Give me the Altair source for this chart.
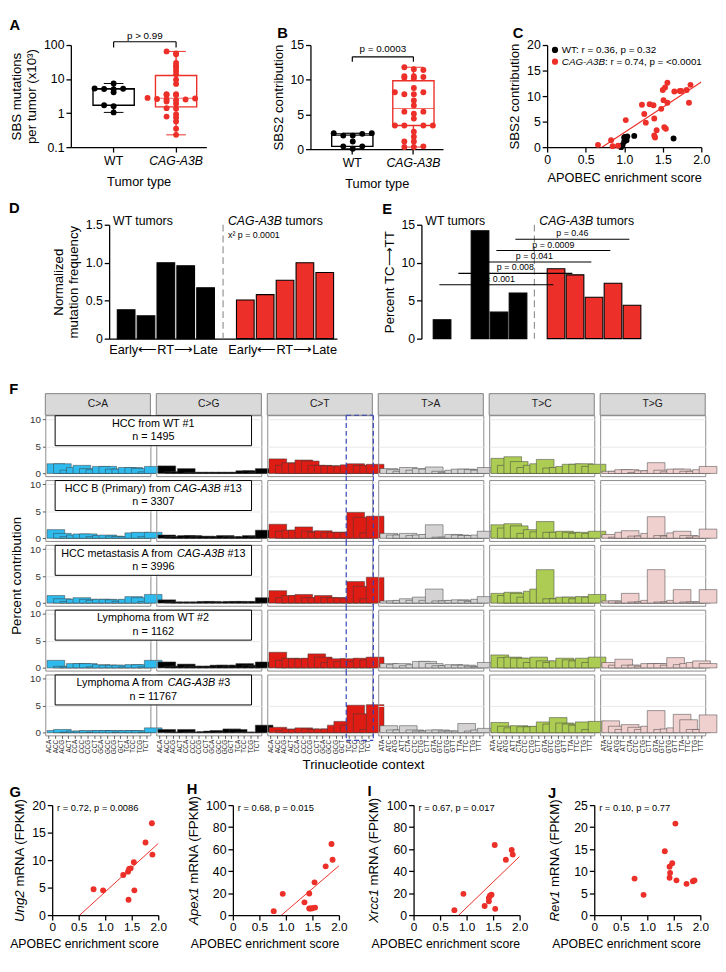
import altair as alt
import pandas as pd

FONT = "Liberation Sans"
RED = "#ec2f28"
BLACK = "#000000"
BLUE = "#3442b8"
DASH_GRAY = "#8a8a8a"

# ---------------- data ----------------
groups = ["WT", "CAG-A3B"]

# A: SBS mutations per tumor (x10^3)
a_wt = [1.05, 1.6, 1.7, 4.1, 5.0, 5.1, 5.2, 5.3, 7.4]
a_cag = [0.23, 0.35, 0.57, 0.74, 0.79, 0.92, 1.35, 1.4, 1.9, 2.2, 2.4, 2.5, 2.5, 2.6, 2.7,
         2.8, 3.4, 3.4, 3.6, 3.6, 7.2, 9.6, 13.8, 17.5, 22, 25, 30, 54, 57, 65]
a_bracket = [85, 125]
a_p = "p > 0.99"

# B: SBS2 contribution
b_wt = [0.05, 0.4, 0.4, 1.1, 1.95, 1.95, 2.2, 2.3, 2.3]
b_cag = [0.3, 0.3, 0.4, 1.1, 1.1, 1.8, 2.5, 3.4, 3.4, 3.4, 3.4, 4.4, 5.1, 5.4, 5.4,
         6.3, 7.0, 7.9, 7.9, 8.2, 8.2, 8.8, 10.2, 10.3, 10.4, 10.5, 10.5, 11.4, 11.5, 11.8]
b_bracket = [12.6, 13.3]
b_p = "p = 0.0003"

# C: APOBEC enrichment vs SBS2
c_wt_x = [0.96, 0.98, 1.0, 1.0, 1.01, 1.03, 1.04, 1.13, 1.64]
c_wt_y = [0.0, 0.45, 1.1, 1.9, 2.0, 1.35, 2.1, 2.2, 1.7]
c_cag_x = [0.66, 0.83, 0.85, 0.92, 1.02, 1.23, 1.26, 1.28, 1.33, 1.38, 1.39, 1.39, 1.40, 1.42,
           1.48, 1.51, 1.52, 1.54, 1.50, 1.53, 1.56, 1.56, 1.65, 1.72, 1.74, 1.81, 1.86, 1.84]
c_cag_y = [0.45, 1.35, 0.2, 0.3, 5.3, 8.3, 6.5, 4.8, 8.4, 8.2, 5.6, 2.3, 1.9, 3.3,
           7.5, 9.2, 3.9, 3.6, 11.2, 11.7, 12.6, 8.7, 10.9, 11.0, 11.0, 11.2, 12.2, 8.7]
c_stat_wt = "WT: r = 0.36, p = 0.32"
c_stat_cag = ": r = 0.74, p = <0.0001"

# D / E: replication timing
rt_slots = ["W1", "W2", "W3", "W4", "W5", "gap", "C1", "C2", "C3", "C4", "C5"]
rt_label = "Early⟵RT⟶Late"
d_wt = [0.38, 0.30, 1.00, 0.96, 0.67]
d_cag = [0.51, 0.58, 0.77, 1.00, 0.87]
d_chi = "x² p = 0.0001"
e_wt = [2.5, None, 14.2, 3.5, 6.0]
e_cag = [9.2, 8.4, 5.45, 7.3, 4.4]
e_from = ["W1", "W2", "W3", "W4", "W5"]
e_to = ["C1", "C2", "C3", "C4", "C5"]
e_mid = ["W4", "W5", "gap", "C1", "C2"]
e_level = [7.1, 8.6, 10.1, 11.6, 13.1]
e_ptext = ["p = 0.001", "p = 0.008", "p = 0.041", "p = 0.0009", "p = 0.46"]

# F: 96-channel profiles (percent contribution)
f_types = ["C>A", "C>G", "C>T", "T>A", "T>C", "T>G"]
f_colors = ["#2EBAED", "#000000", "#DE1C14", "#D4D2D2", "#ADCC54", "#F0D0CE"]
bases = ["A", "C", "G", "T"]
f_hcc_wt1 = [
    1.8, 1.8, 0.6, 1.1, 1.5, 0.9, 0.7, 1.3, 1.3, 0.8, 0.8, 1.1, 1.1, 0.9, 0.3, 1.3,
    1.4, 0.3, 0.3, 0.9, 0.2, 0.2, 0.2, 0.2, 0.2, 0.2, 0.2, 0.2, 0.5, 0.5, 0.2, 0.9,
    2.7, 1.5, 2.0, 1.9, 2.5, 2.3, 1.5, 1.5, 1.4, 1.4, 1.4, 1.6, 1.8, 1.5, 1.5, 1.7,
    0.9, 0.7, 0.4, 1.1, 0.6, 0.9, 0.8, 1.2, 0.4, 0.2, 0.6, 0.8, 0.8, 0.7, 0.6, 1.1,
    2.8, 1.5, 3.1, 2.2, 1.1, 1.5, 1.8, 2.6, 1.0, 1.1, 1.3, 1.7, 1.7, 1.8, 1.3, 1.7,
    0.4, 0.4, 0.7, 0.7, 0.2, 0.5, 0.5, 2.0, 0.6, 0.3, 0.8, 0.8, 0.4, 0.4, 0.7, 1.3]
f_hcc_b = [
    1.6, 0.9, 0.3, 0.6, 0.8, 0.8, 0.3, 0.5, 0.6, 0.4, 0.3, 0.3, 1.0, 1.1, 0.3, 1.1,
    0.6, 0.3, 0.3, 0.5, 0.5, 0.3, 0.4, 0.3, 0.3, 0.5, 0.3, 0.2, 0.3, 0.5, 0.3, 1.5,
    2.6, 1.3, 1.5, 1.5, 2.1, 1.3, 1.1, 1.4, 1.1, 1.1, 1.1, 1.1, 4.8, 3.9, 1.0, 4.1,
    0.9, 0.6, 0.6, 0.9, 0.5, 0.6, 0.7, 2.5, 0.2, 0.2, 0.7, 0.6, 0.5, 0.5, 0.6, 1.3,
    2.5, 1.9, 2.7, 2.3, 0.9, 1.6, 1.2, 3.1, 1.1, 1.1, 1.3, 1.1, 0.9, 1.1, 0.9, 1.3,
    0.7, 0.2, 1.1, 1.4, 0.4, 0.4, 0.9, 4.0, 0.5, 0.4, 1.0, 1.3, 0.5, 0.2, 0.4, 1.7]
f_hcc_met = [
    1.4, 0.8, 0.3, 0.7, 1.0, 0.7, 0.5, 0.7, 0.7, 0.6, 0.3, 0.7, 1.2, 1.0, 0.3, 1.6,
    0.6, 0.2, 0.2, 0.2, 0.2, 0.2, 0.3, 0.3, 0.2, 0.2, 0.3, 0.3, 0.3, 0.2, 0.3, 1.0,
    2.3, 1.0, 1.4, 1.4, 1.6, 1.0, 1.0, 1.4, 1.0, 1.0, 1.0, 0.9, 4.0, 3.1, 0.8, 4.8,
    0.4, 0.4, 0.5, 0.8, 0.5, 1.1, 0.5, 2.6, 0.4, 0.4, 0.5, 0.6, 0.5, 0.3, 0.7, 1.2,
    1.8, 1.4, 2.0, 1.8, 1.1, 2.2, 2.6, 6.2, 0.8, 0.8, 1.1, 1.1, 0.8, 1.2, 1.1, 1.6,
    0.4, 0.4, 0.2, 1.8, 0.2, 0.2, 0.5, 6.2, 0.2, 0.2, 0.5, 2.5, 0.2, 0.2, 0.2, 2.5]
f_lym_wt2 = [
    1.4, 0.3, 0.2, 0.8, 0.8, 0.8, 0.2, 0.6, 0.5, 0.5, 0.5, 0.2, 0.6, 0.6, 0.2, 1.4,
    1.1, 0.3, 0.3, 0.7, 0.3, 0.3, 0.3, 0.3, 0.5, 0.5, 0.3, 0.5, 0.8, 0.5, 0.3, 1.1,
    2.9, 1.4, 1.8, 1.7, 1.7, 1.8, 2.6, 2.0, 1.0, 1.7, 1.2, 1.7, 1.2, 1.8, 1.5, 2.0,
    0.8, 0.6, 0.8, 0.4, 0.6, 1.2, 1.2, 0.8, 0.4, 0.4, 0.6, 0.5, 0.5, 0.3, 0.2, 1.0,
    2.4, 1.9, 2.0, 1.8, 1.8, 1.0, 2.0, 1.3, 1.0, 1.3, 1.8, 1.5, 1.3, 1.8, 1.0, 2.0,
    1.0, 0.5, 1.6, 0.5, 0.5, 0.3, 0.8, 0.8, 0.8, 0.5, 1.9, 0.6, 0.8, 1.0, 1.3, 0.8]
f_lym_a = [
    0.4, 0.6, 0.1, 0.3, 0.3, 0.4, 0.1, 0.4, 0.4, 0.4, 0.1, 0.4, 0.4, 0.4, 0.1, 0.9,
    0.6, 0.1, 0.1, 0.6, 0.1, 0.1, 0.2, 0.3, 0.4, 0.1, 0.7, 0.6, 0.1, 0.1, 0.1, 1.4,
    1.0, 0.4, 0.7, 0.6, 0.9, 0.7, 0.6, 0.7, 0.7, 1.4, 2.1, 1.4, 5.1, 3.5, 0.6, 5.2,
    1.3, 0.5, 0.5, 1.3, 0.5, 0.3, 0.3, 0.5, 0.5, 0.3, 0.3, 0.3, 1.7, 0.3, 0.5, 0.8,
    1.9, 1.2, 0.9, 1.3, 1.1, 1.1, 1.2, 2.0, 1.6, 2.8, 1.8, 1.6, 1.4, 2.0, 0.6, 2.1,
    2.2, 1.2, 0.6, 1.5, 1.0, 0.6, 1.2, 4.1, 0.6, 0.7, 0.9, 3.4, 2.4, 0.6, 0.6, 3.3]
f_rows_vals = [f_hcc_wt1, f_hcc_b, f_hcc_met, f_lym_wt2, f_lym_a]
f_titles = [
    [("HCC from WT #1", False)],
    [("HCC B (Primary) from ", False), ("CAG-A3B", True), (" #13", False)],
    [("HCC metastasis A from ", False), ("CAG-A3B", True), (" #13", False)],
    [("Lymphoma from WT #2", False)],
    [("Lymphoma A from ", False), ("CAG-A3B", True), (" #3", False)],
]
f_counts = [1495, 3307, 3996, 1162, 11767]

# G-J: APOBEC enrichment vs mRNA
g_x = [0.78, 0.96, 1.34, 1.43, 1.45, 1.48, 1.54, 1.55, 1.44, 1.76, 1.88, 1.89]
g_y = [4.7, 4.5, 7.3, 7.9, 8.4, 8.5, 9.6, 4.5, 2.8, 13.2, 16.7, 11.0]
h_x = [0.77, 0.94, 1.35, 1.44, 1.44, 1.47, 1.50, 1.54, 1.55, 1.75, 1.86, 1.88]
h_y = [3.6, 19.3, 11.6, 19.6, 6.0, 6.0, 6.2, 29.8, 6.8, 44.3, 64.6, 50.3]
i_x = [0.77, 0.94, 1.34, 1.42, 1.44, 1.47, 1.42, 1.53, 1.54, 1.74, 1.85, 1.87]
i_y = [4.5, 19.3, 8.3, 12.5, 17.6, 18.5, 15.5, 63.7, 5.7, 50.3, 59.2, 55.0]
j_x = [0.76, 0.93, 1.33, 1.42, 1.47, 1.43, 1.42, 1.53, 1.55, 1.74, 1.86, 1.89]
j_y = [8.3, 4.6, 14.5, 11.0, 11.8, 9.6, 8.5, 20.8, 7.9, 7.1, 7.7, 7.9]
gene_names = ["Ung2", "Apex1", "Xrcc1", "Rev1"]
gene_stats = ["r = 0.72, p = 0.0086", "r = 0.68, p = 0.015", "r = 0.67, p = 0.017", "r = 0.10, p = 0.77"]
gene_ymax = [20, 100, 100, 25]
gene_ystep = [5, 20, 20, 5]
gene_fit = [True, True, True, False]
gene_title_x = [-33, -40, -40, -40]

# ---------------- helpers ----------------
AW = {" ": 278, "#": 556, "(": 333, ")": 333, ",": 278, "-": 333, ".": 278, ":": 278,
      "=": 584, "<": 584, ">": 584,
      "A": 667, "B": 667, "C": 722, "D": 722, "E": 667, "F": 611, "G": 778, "H": 722, "I": 278,
      "J": 500, "K": 667, "L": 556, "M": 833, "N": 722, "O": 778, "P": 667, "Q": 778, "R": 722,
      "S": 667, "T": 611, "U": 722, "V": 667, "W": 944, "X": 667, "Y": 667, "Z": 611,
      "a": 556, "b": 556, "c": 500, "d": 556, "e": 556, "f": 278, "g": 556, "h": 556, "i": 222,
      "j": 222, "k": 500, "l": 222, "m": 833, "n": 556, "o": 556, "p": 556, "q": 556, "r": 333,
      "s": 500, "t": 278, "u": 556, "v": 500, "w": 722, "x": 500, "y": 500, "z": 500}
for _d in "0123456789":
    AW[_d] = 556


def tw(s, size):
    return sum(AW.get(ch, 556) for ch in s) * size / 1000.0


def lead(s, size):
    return tw(s[:len(s) - len(s.lstrip(" "))], size)


ONE = pd.DataFrame({"k": [0]})
grp_colors = alt.Scale(domain=groups, range=[BLACK, RED])
ITALIC_CAG = {"expr": "datum.value == 'CAG-A3B' ? 'italic' : 'normal'"}
DEC_EXPR = "datum.value == 0 ? '0' : format(datum.value, '.1f')"


def letter(t, dx=0, offset=-2):
    return alt.Title(t, anchor="start", frame="bounds", dx=dx, offset=offset, fontSize=15,
                     fontWeight="bold", font=FONT, color="black")


def spacer(h=1):
    return alt.Chart(ONE).mark_rect(opacity=0).encode(
        x=alt.value(0), x2=alt.value(1), y=alt.value(0), y2=alt.value(h)).properties(width=1, height=h)


def grp_x():
    return alt.X("grp:N", sort=groups,
                 scale=alt.Scale(domain=groups, paddingInner=0.33, paddingOuter=0.25, align=0.7),
                 axis=alt.Axis(title="Tumor type", labelAngle=0, labelFontStyle=ITALIC_CAG,
                               labelFontSize=12.5, titleFontSize=13, titlePadding=9,
                               labelPadding=3, tickSize=5))


def box_panel(vw, vc, yenc, binexpr, bracket, ptext, width, height, ttl, pdy):
    df = pd.DataFrame({"grp": ["WT"] * len(vw) + ["CAG-A3B"] * len(vc), "val": vw + vc})
    x = grp_x()
    layers = []
    for g, col in zip(groups, [BLACK, RED]):
        layers.append(
            alt.Chart(df).transform_filter(alt.datum.grp == g).mark_boxplot(
                extent="min-max", size=42,
                box={"fill": "white", "stroke": col, "strokeWidth": 1.4},
                median={"color": col, "strokeWidth": 1.4},
                rule={"color": col, "strokeWidth": 1.4},
                ticks={"color": col, "strokeWidth": 1.4, "size": 20},
            ).encode(x=x, y=yenc))
    pts = (alt.Chart(df)
           .transform_calculate(b=binexpr)
           .transform_window(rk="row_number()", groupby=["grp", "b"], sort=[alt.SortField("val")])
           .transform_calculate(off="((datum.rk - 1) % 2 == 0 ? 1 : -1) * ceil((datum.rk - 1) / 2)")
           .mark_circle(size=36, opacity=1)
           .encode(x=x, xOffset=alt.XOffset("off:Q", scale=alt.Scale(domain=[-2.2, 2.2])),
                   y=yenc, color=alt.Color("grp:N", scale=grp_colors, legend=None)))
    legs = pd.DataFrame({"grp": groups, "val": [bracket[0]] * 2, "val2": [bracket[1]] * 2})
    top = pd.DataFrame({"grp": ["WT"], "grp2": ["CAG-A3B"], "val": [bracket[1]], "p": [ptext]})
    step = width / (2 - 0.33 + 0.5)
    l1 = alt.Chart(legs).mark_rule(color=BLACK, strokeWidth=1.2).encode(x=x, y=yenc, y2=alt.Y2("val2"))
    l2 = alt.Chart(top).mark_rule(color=BLACK, strokeWidth=1.2).encode(x=x, x2=alt.X2("grp2"), y=yenc)
    l3 = alt.Chart(top).mark_text(dx=step / 2, dy=pdy, baseline="bottom", fontSize=10).encode(
        x=x, y=yenc, text="p:N")
    return alt.layer(*layers, pts, l1, l2, l3).properties(width=width, height=height, title=ttl)


# ---------------- A ----------------
yA = alt.Y("val:Q", scale=alt.Scale(type="log", domain=[0.1, 100]),
           axis=alt.Axis(values=[0.1, 1, 10, 100],
                         labelExpr="datum.value < 1 ? '0.1' : format(datum.value, 'd')",
                         title=["SBS mutations", "per tumor (x10³)"], titleFontSize=13.5,
                         titlePadding=5, labelFontSize=12.5, tickSize=5))
A = box_panel(a_wt, a_cag, yA, "round(log(datum.val) / LN10 * 10)", a_bracket, a_p, 138, 104,
              letter("A"), -1)

# ---------------- B ----------------
yB = alt.Y("val:Q", scale=alt.Scale(domain=[0, 15], nice=False),
           axis=alt.Axis(values=[0, 5, 10, 15], title="SBS2 contribution", titleFontSize=13.5,
                         titlePadding=5, labelFontSize=12.5, tickSize=5))
B = box_panel(b_wt, b_cag, yB, "round(datum.val)", b_bracket, b_p, 135, 106, letter("B", dx=6), -3)

# ---------------- C ----------------
dfC = pd.DataFrame({"grp": ["WT"] * len(c_wt_x) + ["CAG-A3B"] * len(c_cag_x),
                    "x": c_wt_x + c_cag_x, "y": c_wt_y + c_cag_y})
xC = alt.X("x:Q", scale=alt.Scale(domain=[0, 2], nice=False),
           axis=alt.Axis(values=[0, 0.5, 1, 1.5, 2], labelExpr=DEC_EXPR, labelFlush=False,
                         title="APOBEC enrichment score", titleFontSize=13, titlePadding=5,
                         labelFontSize=12.5, tickSize=5))
yC = alt.Y("y:Q", scale=alt.Scale(domain=[0, 20], nice=False),
           axis=alt.Axis(values=[0, 5, 10, 15, 20], title="SBS2 contribution", titleFontSize=13.5,
                         titlePadding=5, labelFontSize=12.5, tickSize=5))
ptsC = alt.Chart(dfC).mark_circle(size=36, opacity=1).encode(
    x=xC, y=yC, color=alt.Color("grp:N", scale=grp_colors, legend=None))
regC = (alt.Chart(dfC).transform_filter(alt.datum.grp == "CAG-A3B")
        .transform_regression("x", "y", extent=[0, 2])
        .mark_line(color=RED, strokeWidth=1.2, clip=True).encode(x=xC, y=yC))
legC = [
    alt.Chart(ONE).mark_circle(size=40, color=BLACK, opacity=1).encode(x=alt.value(8), y=alt.value(5)),
    alt.Chart(ONE).mark_text(text=c_stat_wt, align="left", baseline="middle", fontSize=10).encode(
        x=alt.value(15), y=alt.value(5)),
    alt.Chart(ONE).mark_circle(size=40, color=RED, opacity=1).encode(x=alt.value(8), y=alt.value(17)),
    alt.Chart(ONE).mark_text(text="CAG-A3B", align="left", baseline="middle", fontSize=10,
                             fontStyle="italic").encode(x=alt.value(15), y=alt.value(17)),
    alt.Chart(ONE).mark_text(text=c_stat_cag, align="left", baseline="middle", fontSize=10).encode(
        x=alt.value(15 + tw("CAG-A3B", 10)), y=alt.value(17)),
]
C = alt.layer(ptsC, regC, *legC).properties(width=157, height=104, title=letter("C", dx=5))


# ---------------- D / E ----------------
def rt_x(po):
    return alt.X("slot:N", sort=rt_slots,
                 scale=alt.Scale(domain=rt_slots, paddingInner=0.35, paddingOuter=po),
                 axis=alt.Axis(title=None, ticks=False, labelAngle=0, labelOverlap=False,
                               labelFontSize=13, labelPadding=5,
                               labelExpr="datum.value == 'W3' || datum.value == 'C3' ? '"
                                         + rt_label + "' : ''"))


def rt_panel(wt_vals, cag_vals, yenc, po, width, height, extra, ttl):
    df = pd.DataFrame({"slot": rt_slots[:5] + rt_slots[6:],
                       "grp": ["WT"] * 5 + ["CAG-A3B"] * 5,
                       "val": wt_vals + cag_vals})
    x = rt_x(po)
    bars = alt.Chart(df).mark_bar(stroke=BLACK, strokeWidth=1.1).encode(
        x=x, y=yenc, color=alt.Color("grp:N", scale=grp_colors, legend=None))
    gapdf = pd.DataFrame({"slot": ["gap"]})
    dash = alt.Chart(gapdf).mark_rule(
        color=DASH_GRAY, strokeDash=[7, 4], strokeWidth=1.1).encode(x=x)
    t1 = alt.Chart(ONE).mark_text(text="WT tumors", align="left", baseline="middle",
                                  fontSize=12.5).encode(x=alt.value(4), y=alt.value(-4))
    t2 = alt.Chart(gapdf).mark_text(text="CAG-A3B", align="left", baseline="middle", fontSize=12.5,
                                    fontStyle="italic", dx=5).encode(x=x, y=alt.value(-4))
    t3 = alt.Chart(gapdf).mark_text(text="tumors", align="left", baseline="middle", fontSize=12.5,
                                    dx=5 + tw("CAG-A3B ", 12.5)).encode(x=x, y=alt.value(-4))
    layers = [bars, dash, t1, t2, t3] + extra(x, yenc, gapdf)
    props = dict(width=width, height=height)
    if ttl is not None:
        props["title"] = ttl
    return alt.layer(*layers).properties(**props)


yD = alt.Y("val:Q", scale=alt.Scale(domain=[0, 1.5], nice=False),
           axis=alt.Axis(values=[0, 0.5, 1, 1.5], labelExpr=DEC_EXPR,
                         title=["Normalized", "mutation frequency"], titleFontSize=13.5,
                         titlePadding=5, labelFontSize=12.5, tickSize=5))


def d_extra(x, yenc, gapdf):
    return [
        alt.Chart(gapdf).mark_text(text=d_chi, align="left", baseline="middle", fontSize=9,
                                   dx=5).encode(x=x, y=alt.value(10)),
        alt.Chart(ONE).mark_text(text="D", align="left", baseline="middle", fontSize=15,
                                 fontWeight="bold").encode(x=alt.value(-102), y=alt.value(-17)),
    ]


D = rt_panel(d_wt, d_cag, yD, 0.41, 232, 116, d_extra, None)

yE = alt.Y("val:Q", scale=alt.Scale(domain=[0, 15], nice=False),
           axis=alt.Axis(values=[0, 5, 10, 15], title="Percent TC⟶TT", titleFontSize=13.5,
                         titlePadding=5, labelFontSize=12.5, tickSize=5))


def e_extra(x, yenc, gapdf):
    br = pd.DataFrame({"slot": e_from, "slot2": e_to, "mid": e_mid, "val": e_level, "p": e_ptext})
    xm = alt.X("mid:N", sort=rt_slots, scale=alt.Scale(domain=rt_slots, paddingInner=0.35,
                                                        paddingOuter=0.62), axis=None)
    lines = alt.Chart(br).mark_rule(color=BLACK, strokeWidth=1.1).encode(
        x=x, x2=alt.X2("slot2"), y=yenc)
    txt = alt.Chart(br).mark_text(baseline="bottom", fontSize=9, dy=-1).encode(
        x=xm, y=yenc, text="p:N")
    return [lines, txt]


E = rt_panel(e_wt, e_cag, yE, 0.62, 230, 116, e_extra, letter("E"))

# ---------------- F ----------------
FW, FH = 107, 62


def ctx_list(t):
    return [a + t[0] + b for a in bases for b in bases]


recs = []
for r, vals in enumerate(f_rows_vals):
    for c, t in enumerate(f_types):
        for i, ctx in enumerate(ctx_list(t)):
            recs.append({"row": r, "type": t, "ctx": ctx, "val": vals[c * 16 + i]})
dfF = pd.DataFrame(recs)


def f_panel(r, c):
    t = f_types[c]
    ctxs = ctx_list(t)
    xsc = alt.Scale(domain=ctxs, paddingInner=0, paddingOuter=0.1)
    if r == 4:
        xax = alt.Axis(title=None, labelAngle=-90, labelFontSize=6.5, labelPadding=1, tickSize=3,
                       tickWidth=0.8, tickColor="#333333", labelColor="#222222", domain=False)
    else:
        xax = None
    xenc = alt.X("ctx:N", sort=ctxs, scale=xsc, axis=xax)
    yax = alt.Axis(values=[0, 5, 10], grid=True, gridColor="#e8e8e8", gridWidth=1, domain=False,
                   labels=(c == 0), ticks=(c == 0), tickSize=3, tickWidth=0.8,
                   tickColor="#333333", labelColor="#333333", labelFontSize=10, labelPadding=2,
                   title=("Percent contribution" if (c == 0 and r == 2) else None),
                   titleFontSize=13.5, titlePadding=6)
    yenc = alt.Y("val:Q", scale=alt.Scale(domain=[-0.5, 10.8], nice=False, zero=False), axis=yax)
    bars = (alt.Chart(dfF).transform_filter((alt.datum.row == r) & (alt.datum.type == t))
            .mark_bar(color=f_colors[c], stroke="#3c3c3c", strokeWidth=0.5,
                      width=alt.RelativeBandSize(0.66))
            .encode(x=xenc, y=yenc))
    layers = [bars]
    if r == 0:
        hdr = pd.DataFrame({"t": [t]})
        layers.append(alt.Chart(hdr).mark_rect(fill="#d9d9d9", stroke="#7f7f7f", strokeWidth=1).encode(
            x=alt.value(0), x2=alt.value(FW), y=alt.value(-22), y2=alt.value(0)))
        layers.append(alt.Chart(hdr).mark_text(fontSize=10.5, color="#1a1a1a", baseline="middle").encode(
            x=alt.value(FW / 2), y=alt.value(-11), text="t:N"))
    if c == 1:
        bx0 = -(FW + 6) + 10
        bx1 = FW - 10
        cx = (bx0 + bx1) / 2.0
        layers.append(alt.Chart(ONE).mark_rect(fill="white", stroke="black", strokeWidth=1).encode(
            x=alt.value(bx0), x2=alt.value(bx1), y=alt.value(0.5), y2=alt.value(FH / 2)))
        pieces = f_titles[r]
        total = sum(tw(s, 11) for s, _ in pieces)
        xs = cx - total / 2.0
        for s, it in pieces:
            kw = dict(text=s.strip(), align="left", baseline="middle", fontSize=11)
            if it:
                kw["fontStyle"] = "italic"
            layers.append(alt.Chart(ONE).mark_text(**kw).encode(
                x=alt.value(xs + lead(s, 11)), y=alt.value(9)))
            xs += tw(s, 11)
        layers.append(alt.Chart(ONE).mark_text(text="n = %d" % f_counts[r], baseline="middle",
                                               fontSize=11).encode(x=alt.value(cx), y=alt.value(22.5)))
    if c == 2:
        tca = pd.DataFrame({"ctx": ["TCA"]})
        ytop = 0 if r == 0 else -4
        ybot = FH + 5 if r == 4 else FH
        xl = alt.X("ctx:N", sort=ctxs, scale=xsc, axis=xax, bandPosition=0)
        dkw = dict(color=BLUE, strokeDash=[5, 3], strokeWidth=1.2)
        layers.append(alt.Chart(tca).mark_rule(xOffset=0.5, **dkw).encode(
            x=xl, y=alt.value(ytop), y2=alt.value(ybot)))
        layers.append(alt.Chart(tca).mark_rule(**dkw).encode(
            x=alt.value(FW + 1), y=alt.value(ytop), y2=alt.value(ybot)))
        if r == 0:
            layers.append(alt.Chart(tca).mark_rule(xOffset=0.5, **dkw).encode(
                x=xl, x2=alt.value(FW + 1), y=alt.value(0)))
        if r == 4:
            layers.append(alt.Chart(tca).mark_rule(xOffset=0.5, **dkw).encode(
                x=xl, x2=alt.value(FW + 1), y=alt.value(FH + 5)))
    return alt.layer(*layers).properties(width=FW, height=FH,
                                         view=alt.ViewBackground(stroke="#8c8c8c", strokeWidth=1))


F_grid = alt.concat(*[f_panel(r, c) for r in range(5) for c in range(6)], columns=6,
                    spacing=alt.RowColnumber(row=4, column=6), bounds="flush",
                    title=alt.Title("Trinucleotide context", orient="bottom", anchor="middle",
                                    fontSize=13.5, fontWeight="normal", offset=4, font=FONT))
F = alt.vconcat(F_grid, title=letter("F", offset=-4))


# ---------------- G-J ----------------
def gene_panel(xs, ys, ymax, ystep, gene, stat, fit, xt, ttl):
    df = pd.DataFrame({"x": xs, "y": ys})
    W, H = 108, 112
    xenc = alt.X("x:Q", scale=alt.Scale(domain=[0, 2], nice=False),
                 axis=alt.Axis(values=[0, 0.5, 1, 1.5, 2], labelExpr=DEC_EXPR, labelFlush=False,
                               title="APOBEC enrichment score", titleFontSize=12.5, titlePadding=5,
                               titleAnchor="end", labelFontSize=12, tickSize=5))
    yenc = alt.Y("y:Q", scale=alt.Scale(domain=[0, ymax], nice=False),
                 axis=alt.Axis(values=list(range(0, ymax + 1, ystep)), title=None,
                               labelFontSize=12.5, tickSize=5))
    layers = [alt.Chart(df).mark_circle(size=36, color=RED, opacity=1).encode(x=xenc, y=yenc)]
    if fit:
        layers.append(alt.Chart(df).transform_regression("x", "y", extent=[0, 2])
                      .mark_line(color=RED, strokeWidth=1, clip=True).encode(x=xenc, y=yenc))
    layers.append(alt.Chart(ONE).mark_text(text=stat, align="left", baseline="middle", fontSize=9.5)
                  .encode(x=alt.value(5), y=alt.value(3)))
    rest = " mRNA (FPKM)"
    fs = 13.5
    w1, w2 = tw(gene, fs), tw(rest, fs)
    anchor = H / 2.0 + (w2 - w1) / 2.0
    layers.append(alt.Chart(ONE).mark_text(text=gene, angle=270, align="right", baseline="middle",
                                           fontSize=fs, fontStyle="italic")
                  .encode(x=alt.value(xt), y=alt.value(anchor)))
    layers.append(alt.Chart(ONE).mark_text(text=rest.strip(), angle=270, align="left",
                                           baseline="middle", fontSize=fs)
                  .encode(x=alt.value(xt), y=alt.value(anchor - lead(rest, fs))))
    return alt.layer(*layers).properties(width=W, height=H, title=ttl)


gene_x = [g_x, h_x, i_x, j_x]
gene_y = [g_y, h_y, i_y, j_y]
gene_letters = ["G", "H", "I", "J"]
gene_charts = [gene_panel(gene_x[k], gene_y[k], gene_ymax[k], gene_ystep[k], gene_names[k],
                          gene_stats[k], gene_fit[k], gene_title_x[k], letter(gene_letters[k]))
               for k in range(4)]

row1 = alt.hconcat(A, B, C, spacing=66)
row2 = alt.hconcat(D, E, spacing=46)
row4 = alt.hconcat(*gene_charts, spacing=19)


def wrap(row):
    return alt.hconcat(spacer(), row, spacing=0)


rest = alt.vconcat(wrap(row1), wrap(row2), spacer(6), wrap(F), wrap(row4), spacing=10)

chart = (alt.vconcat(spacer(), rest, spacing=0)
         .properties(padding={"left": 0, "top": 0, "right": 0, "bottom": 0})
         .configure(font=FONT)
         .configure_view(stroke=None)
         .configure_axis(labelFont=FONT, titleFont=FONT, labelColor="black", titleColor="black",
                         domainColor="black", tickColor="black", titleFontWeight="normal",
                         grid=False, domainWidth=1.3, tickWidth=1.3, labelFontSize=12,
                         titleFontSize=13)
         .configure_text(font=FONT, color="black")
         .configure_title(font=FONT, color="black"))

chart.save("out.html", embed_options={"renderer": "svg", "actions": False})
